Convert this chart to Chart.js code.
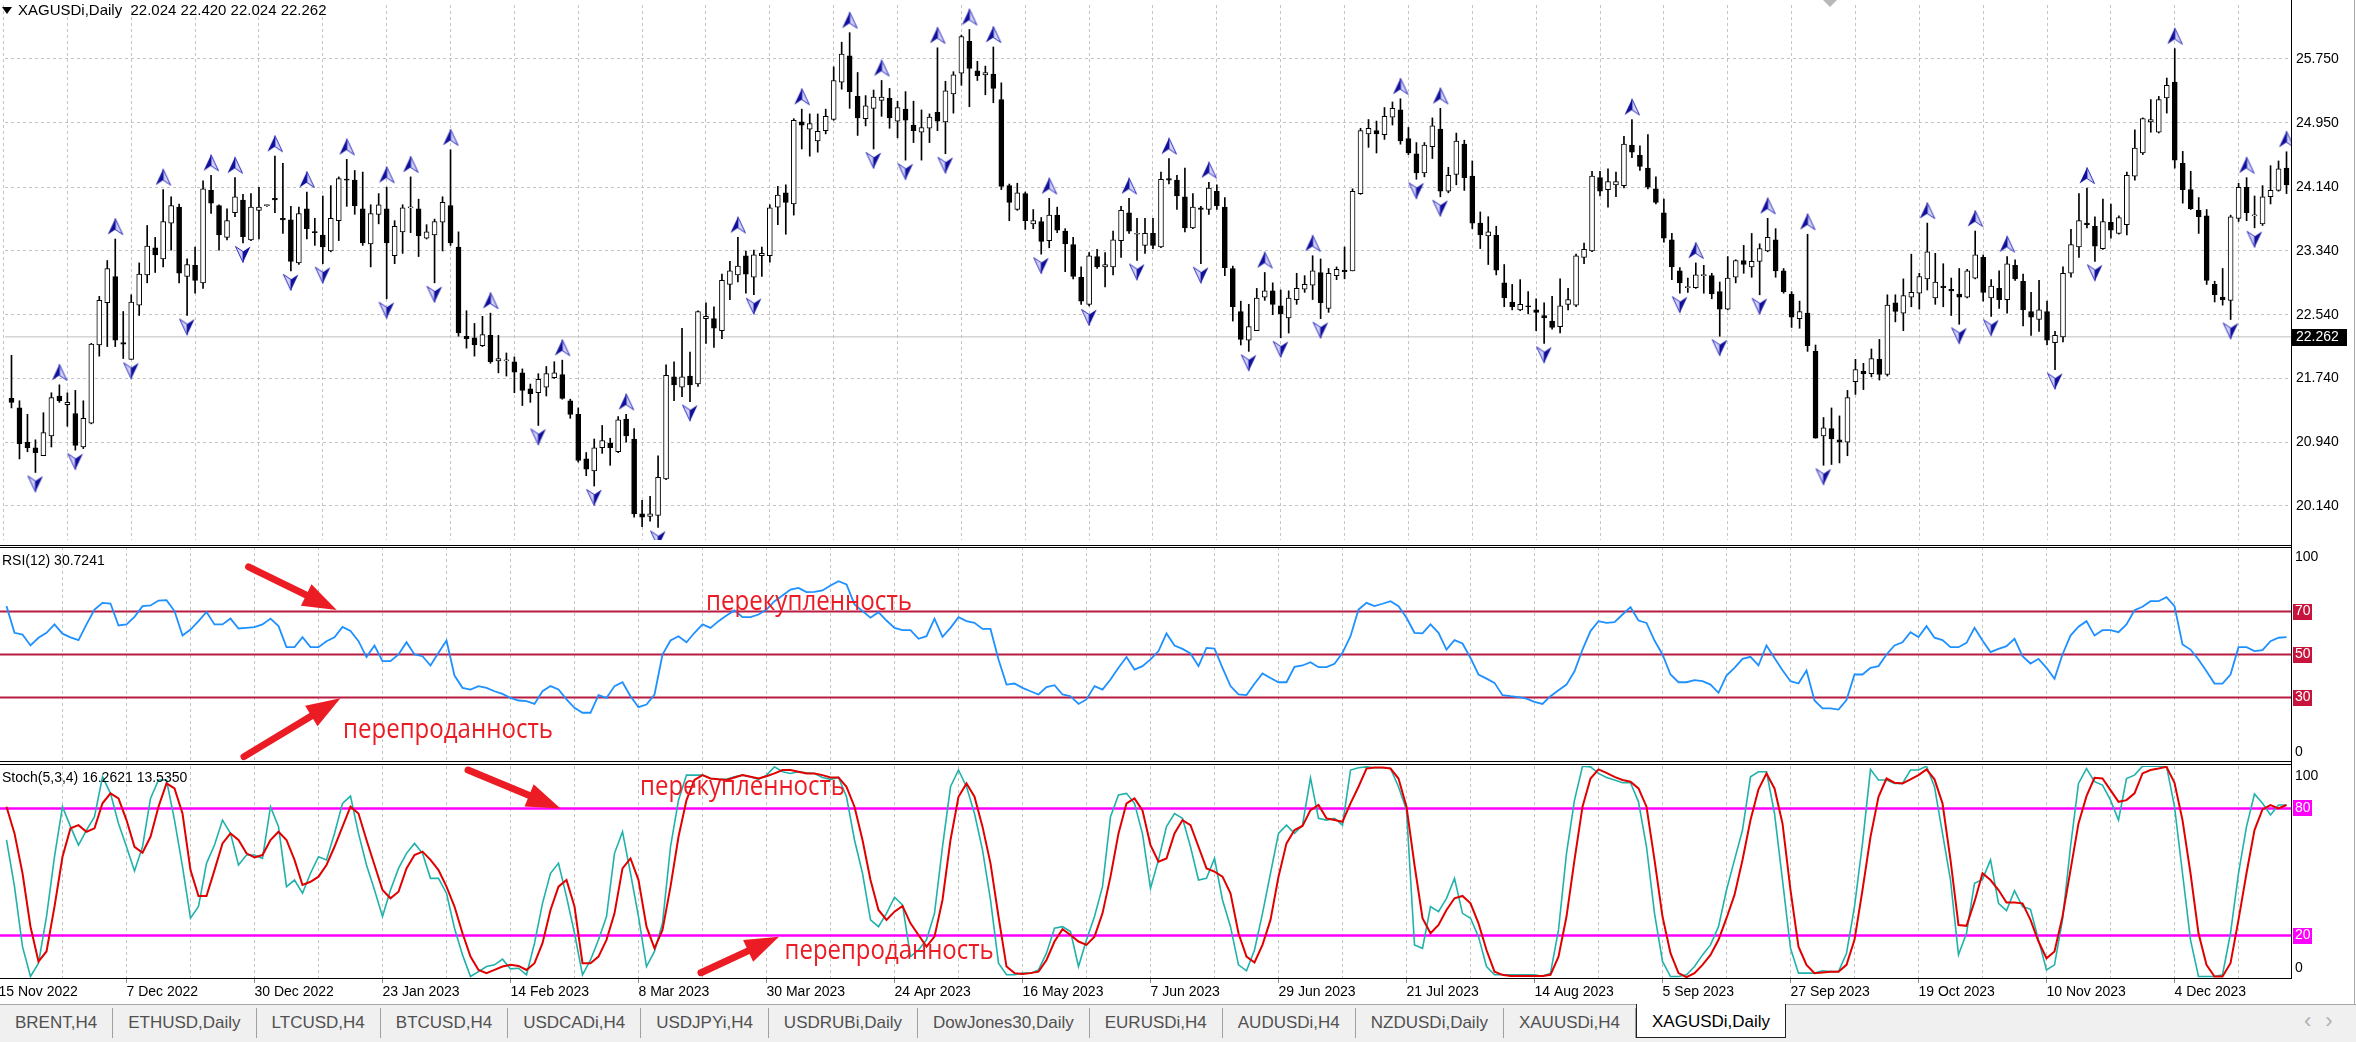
<!DOCTYPE html>
<html>
<head>
<meta charset="utf-8">
<title>XAGUSDi,Daily</title>
<script src="https://cdn.jsdelivr.net/npm/chart.js@4.4.1/dist/chart.umd.min.js"></script>
<style>
  html, body { margin: 0; padding: 0; background: #fff; }
  body { position: relative; width: 2356px; height: 1042px; overflow: hidden;
         font-family: "Liberation Sans", Arial, sans-serif; font-size: 14px; color: #000; }
  canvas { position: absolute; left: 0; }
  #mainChart { top: 0; }
  #rsiChart { top: 547px; }
  #stochChart { top: 766px; }
  .rule { position: absolute; left: 0; width: 2292px; height: 1px; background: #000; }
  .axisLine { position: absolute; left: 2291px; top: 0; width: 1px; height: 979px; background: #000; }
  .winEdge { position: absolute; left: 2354px; top: 0; width: 1px; height: 1004px; background: #a8a8a8; }
  .caption { position: absolute; left: 2px; white-space: pre; line-height: 16px; font-size: 14px; }
  #header { font-size: 15px; line-height: 18px; }
  .triDown { position: absolute; width: 0; height: 0; border-left: 5px solid transparent;
             border-right: 5px solid transparent; border-top: 7px solid #000; }
  #shiftMark { left: 1823px; top: 0; border-left-width: 7px; border-right-width: 7px; border-top: 7px solid #b8b8b8; }
  #tabs { position: absolute; left: 0; top: 1004px; width: 2356px; height: 38px; background: #f0f0f0;
          border-top: 1px solid #a8a8a8; display: flex; align-items: flex-start; }
  .tab { margin-top: 3px; height: 30px; line-height: 30px; padding: 0 15px; font-size: 17px; color: #505050;
         box-sizing: border-box; border-right: 1px solid #a0a0a0; white-space: nowrap; }
  .tab.active { margin-top: -1px; height: 34px; line-height: 36px; background: #fff; color: #000;
                border: 1px solid #222; border-top: none; }
  #tabArrows { position: absolute; left: 2304px; top: 1008px; font-size: 22px; color: #b0b0b0; letter-spacing: 14px; }
</style>
</head>
<body>
<canvas id="mainChart" width="2356" height="545"></canvas>
<canvas id="rsiChart" width="2356" height="215"></canvas>
<canvas id="stochChart" width="2356" height="238"></canvas>

<div class="rule" style="top:545px"></div>
<div class="rule" style="top:547px"></div>
<div class="rule" style="top:761px"></div>
<div class="rule" style="top:764px"></div>
<div class="rule" style="top:978px"></div>
<div class="axisLine"></div>
<div class="winEdge"></div>

<div class="triDown" style="left:2px;top:7px"></div>
<div id="header" class="caption" style="left:18px;top:1px"></div>
<div id="rsiCaption" class="caption" style="top:552px"></div>
<div id="stochCaption" class="caption" style="top:769px"></div>
<div id="shiftMark" class="triDown"></div>

<div id="tabs"></div>
<div id="tabArrows">‹›</div>

<script>
// ---- data (daily bars, oldest first) ----
const symbolName = 'XAGUSDi';
const periodName = 'Daily';
const headerOHLC = [22.024, 22.420, 22.024, 22.262];
const lastPrice = 22.262;

const opens = [
  21.49,21.37,20.94,20.87,20.77,21.02,21.52,21.41,21.30,20.88,
  21.18,22.16,22.69,23.02,22.19,21.98,22.66,23.04,23.38,23.24,
  23.69,23.89,23.02,23.16,22.94,24.10,23.91,23.51,23.82,23.98,
  23.48,23.85,23.91,24.00,23.75,23.73,23.19,23.87,23.58,23.54,
  23.34,23.72,24.24,24.23,23.87,23.43,23.80,23.87,23.28,23.58,
  23.88,23.87,23.50,23.54,23.70,23.91,23.39,22.27,22.25,22.15,
  22.28,21.96,21.96,21.95,21.81,21.61,21.56,21.63,21.75,21.79,
  21.46,21.29,20.73,20.58,20.87,20.93,20.82,21.23,20.98,20.04,
  20.01,20.02,20.48,21.76,21.63,21.77,21.67,22.49,22.49,22.34,
  22.92,23.04,23.28,23.01,23.28,23.28,23.89,24.07,23.93,24.96,
  24.87,24.72,24.85,24.99,25.46,25.79,25.28,25.00,25.13,25.23,
  25.26,24.97,25.12,24.92,24.83,24.88,25.08,24.96,25.31,25.57,
  25.97,25.60,25.55,25.56,25.24,24.16,23.86,24.06,23.68,23.71,
  23.47,23.79,23.59,23.42,23.01,22.67,23.27,23.14,23.14,23.47,
  23.82,23.55,23.41,23.56,23.39,24.25,24.23,24.02,23.63,23.88,
  23.86,24.09,23.89,23.12,22.58,22.22,22.34,22.76,22.84,22.65,
  22.50,22.73,22.86,22.91,23.07,22.62,23.03,23.10,23.09,24.06,
  24.81,24.85,24.80,25.02,25.11,24.75,24.56,24.32,24.65,24.87,
  24.09,24.30,24.68,24.28,23.69,23.53,23.54,22.94,22.70,22.60,
  22.65,22.60,22.53,22.46,22.39,22.67,22.66,23.26,23.34,24.26,
  24.11,24.17,24.16,24.67,24.54,24.38,24.12,23.82,23.48,23.09,
  22.88,22.88,23.03,23.03,22.83,22.61,23.01,23.22,23.14,23.21,
  23.34,23.48,23.09,22.80,22.49,22.56,22.08,21.02,21.11,20.97,
  20.94,21.70,21.83,21.80,21.98,21.79,22.69,22.56,22.76,22.81,
  22.99,22.75,22.90,22.86,22.80,22.76,23.00,23.26,22.75,22.87,
  22.73,23.16,22.96,22.58,22.48,22.58,22.19,22.26,23.06,23.39,
  23.69,23.65,23.37,23.70,23.56,23.67,24.28,24.57,24.96,24.83,
  25.26,25.46,24.44,24.11,23.85,23.78,22.92,22.76,22.72,23.75,
  24.14,23.78,23.68,24.02,24.10,24.38
];
const highs = [
  22.03,21.46,21.29,20.97,21.31,21.56,21.66,21.56,21.59,21.46,
  22.18,22.77,23.22,23.49,22.58,22.79,23.19,23.66,23.51,24.11,
  24.02,23.93,23.24,23.39,24.22,24.29,23.92,23.87,24.26,24.05,
  24.06,24.14,23.92,24.53,24.44,23.90,23.89,24.08,23.75,24.03,
  24.16,24.27,24.49,24.35,24.33,23.92,24.06,24.14,23.72,23.92,
  24.27,23.99,23.67,23.74,24.02,24.61,23.58,22.59,22.43,22.52,
  22.56,22.28,22.06,22.01,21.86,21.67,21.80,21.89,21.95,21.97,
  21.48,21.37,20.81,20.98,21.15,20.99,21.26,21.29,21.11,20.21,
  20.26,20.77,21.91,21.95,22.37,22.07,22.59,22.69,22.64,23.05,
  23.21,23.51,23.34,23.35,23.39,23.92,24.15,24.17,25.00,25.12,
  25.06,25.06,25.12,25.65,25.96,26.08,25.58,25.29,25.36,25.48,
  25.38,25.22,25.34,25.22,25.11,25.06,25.89,25.47,25.59,26.05,
  26.12,25.72,25.66,25.90,25.45,24.18,24.19,24.08,23.86,23.76,
  24.00,23.89,23.62,23.51,23.14,23.32,23.36,23.32,23.59,23.90,
  24.00,23.75,23.75,23.75,24.33,24.50,24.29,24.38,24.06,23.90,
  24.20,24.17,24.01,23.15,22.71,22.67,22.87,23.07,22.94,22.85,
  22.84,23.06,23.03,23.28,23.24,23.12,23.14,23.39,24.12,24.88,
  24.99,24.97,25.14,25.21,25.25,24.89,24.70,24.70,25.01,25.13,
  24.39,24.82,24.73,24.47,23.83,23.77,23.65,23.17,22.92,22.98,
  22.83,22.74,22.69,22.77,22.99,22.87,23.30,23.44,24.34,24.34,
  24.37,24.33,24.78,24.99,24.66,24.80,24.27,23.99,23.56,23.13,
  23.00,23.19,23.16,23.06,22.95,23.27,23.23,23.41,23.56,23.43,
  23.75,23.62,23.12,22.83,22.71,23.55,22.16,21.25,21.37,21.27,
  21.59,21.98,21.93,22.11,22.23,22.79,22.79,22.99,23.30,23.06,
  23.69,23.31,23.18,23.00,23.12,23.11,23.59,23.29,22.98,23.09,
  23.27,23.23,23.05,22.82,22.97,22.71,22.33,23.14,23.61,24.06,
  24.13,23.77,23.99,23.93,23.78,24.33,24.86,25.01,25.24,25.28,
  25.51,25.88,24.59,24.34,24.01,23.86,22.96,23.12,23.79,24.19,
  24.26,24.03,24.16,24.41,24.47,24.585
];
const lows = [
  21.37,20.73,20.82,20.56,20.77,20.88,21.44,21.14,20.84,20.86,
  21.17,22.02,22.14,22.14,21.99,21.98,22.53,22.94,23.07,23.14,
  23.35,22.94,22.53,22.81,22.87,23.81,23.35,23.48,23.77,23.44,
  23.47,23.49,23.90,23.82,23.56,23.09,23.17,23.49,23.41,23.18,
  23.33,23.47,23.90,23.80,23.41,23.14,23.68,22.74,23.18,23.31,
  23.57,23.27,23.49,22.94,23.34,23.41,22.27,22.12,22.02,22.14,
  21.93,21.81,21.77,21.56,21.40,21.44,21.15,21.52,21.74,21.48,
  21.24,20.69,20.52,20.39,20.80,20.65,20.81,20.94,20.00,19.88,
  19.95,19.87,20.47,21.46,21.51,21.45,21.64,22.18,22.13,22.24,
  22.73,22.95,22.81,22.79,23.02,23.20,23.67,23.55,23.79,24.62,
  24.53,24.58,24.81,24.98,25.37,25.13,24.79,24.91,24.62,25.03,
  24.88,24.76,24.48,24.70,24.48,24.70,24.85,24.56,25.07,25.42,
  25.15,25.48,25.30,25.20,24.11,23.72,23.85,23.61,23.62,23.30,
  23.38,23.57,23.08,22.99,22.67,22.65,23.12,22.89,23.04,23.26,
  23.56,23.22,23.31,23.37,23.38,24.18,23.86,23.58,23.62,23.18,
  23.80,23.86,23.03,22.46,22.16,22.08,22.34,22.72,22.54,22.25,
  22.31,22.67,22.82,22.73,22.49,22.57,22.98,22.99,23.09,24.05,
  24.64,24.57,24.74,24.92,24.68,24.55,24.24,24.27,24.50,24.02,
  24.07,24.17,24.10,23.62,23.37,23.17,23.04,22.64,22.60,22.59,
  22.55,22.34,22.18,22.36,22.31,22.60,22.64,23.18,23.33,24.03,
  23.89,24.02,24.13,24.51,24.35,24.12,23.93,23.45,22.98,22.81,
  22.82,22.87,22.81,22.74,22.27,22.60,22.94,23.06,23.01,22.79,
  23.33,23.01,22.81,22.38,22.37,22.08,20.99,20.65,20.66,20.68,
  20.77,21.54,21.60,21.76,21.72,21.77,22.45,22.34,22.64,22.61,
  22.85,22.67,22.64,22.53,22.42,22.75,22.99,22.71,22.52,22.62,
  22.56,22.97,22.40,22.28,22.33,22.16,21.85,22.20,23.01,23.26,
  23.63,23.21,23.36,23.50,23.55,23.54,24.23,24.55,24.83,24.82,
  25.07,24.38,23.94,23.86,23.56,22.92,22.70,22.66,22.48,23.71,
  23.72,23.63,23.66,23.93,24.09,24.06
];
const closes = [
  21.44,20.92,20.87,20.81,21.06,21.50,21.46,21.44,20.90,21.24,
  22.17,22.72,23.12,22.22,22.17,22.70,23.05,23.40,23.29,23.71,
  23.91,23.06,23.17,22.97,24.12,23.94,23.54,23.72,24.02,23.52,
  23.89,23.89,23.91,23.98,23.73,23.21,23.81,23.62,23.57,23.39,
  23.75,24.25,24.23,23.91,23.44,23.81,23.92,23.44,23.65,23.88,
  23.88,23.53,23.58,23.71,23.95,23.44,22.31,22.24,22.16,22.29,
  21.95,21.99,21.96,21.82,21.59,21.55,21.73,21.80,21.81,21.49,
  21.29,20.71,20.60,20.87,20.96,20.87,21.22,21.02,20.04,20.00,
  20.04,20.50,21.78,21.66,21.76,21.66,22.58,22.52,22.37,22.97,
  23.09,23.15,23.05,23.29,23.31,23.88,24.04,23.95,24.98,24.92,
  24.94,24.84,25.03,25.48,25.81,25.34,25.01,25.16,25.27,25.27,
  25.01,25.14,24.98,24.85,24.89,25.02,24.97,25.35,25.55,26.03,
  25.63,25.54,25.58,25.38,24.15,23.95,24.07,23.72,23.72,23.46,
  23.79,23.60,23.43,23.02,22.71,23.28,23.14,23.17,23.48,23.85,
  23.59,23.55,23.56,23.41,24.24,24.23,24.03,23.63,23.89,23.86,
  24.13,23.91,23.13,22.64,22.23,22.39,22.75,22.84,22.67,22.55,
  22.75,22.87,22.92,23.09,22.69,23.06,23.11,23.08,24.09,24.85,
  24.88,24.81,25.03,25.13,24.72,24.57,24.32,24.67,24.91,24.09,
  24.29,24.72,24.26,23.69,23.54,23.58,23.10,22.75,22.64,22.67,
  22.64,22.57,22.50,22.38,22.65,22.73,23.28,23.36,24.28,24.09,
  24.21,24.21,24.68,24.58,24.40,24.14,23.95,23.50,23.14,22.94,
  22.88,23.04,23.03,22.80,22.61,23.00,23.22,23.17,23.21,23.37,
  23.51,23.09,22.83,22.51,22.58,22.15,20.99,21.12,20.98,20.94,
  21.50,21.85,21.80,21.99,21.79,22.66,22.58,22.78,22.82,23.02,
  23.33,22.95,22.88,22.84,22.76,23.09,23.29,22.82,22.90,22.73,
  23.18,22.99,22.60,22.51,22.60,22.22,22.28,23.06,23.42,23.72,
  23.67,23.40,23.71,23.60,23.76,24.29,24.63,25.00,24.99,25.24,
  25.42,24.48,24.11,23.87,23.77,22.97,22.79,22.73,23.77,24.14,
  23.82,23.78,24.02,24.10,24.37,24.17
];

// Bill Williams fractals: bar numbers that carry an arrow
const fractalUpBars = [6,13,19,25,28,33,37,42,47,50,55,60,69,77,91,99,105,109,116,120,123,130,140,
  145,150,157,163,174,179,203,211,220,225,240,246,250,260,271,280,285];
const fractalDownBars = [3,8,15,22,29,35,39,47,53,66,73,81,85,93,108,112,117,129,135,141,149,155,159,
  164,176,179,192,209,214,219,227,244,248,256,261,278,281];

const rsiValues = [
  72.5,60.1,59.3,54.2,57.8,60.1,64,59.7,58,56.7,
  64,70.9,74,73.7,63.5,64,67.5,72.5,72.8,75.1,
  75.3,70.2,58.8,61.6,65.5,69.8,64,64,66.7,62.1,
  62.4,62.7,64,66.7,63.2,53.4,53.4,58,53.4,53.4,
  56.2,58,62.8,60.9,56.2,48.8,54.2,46.9,46.9,50,
  55.7,50,49.2,44.9,50.8,56.5,40.2,34.5,33.7,35.3,
  34.5,32.9,31.7,29.8,28.6,28.3,27,32.9,35.3,33.7,
  29.1,25.2,22.9,22.9,31.1,29.8,35.3,37.1,30.6,25.5,
  26.7,31.4,50,56.5,58.5,55.7,60.1,64,62.4,65.5,
  68.1,70.5,67.4,67.4,68.6,70.9,74.8,77.4,80.2,81,
  79,79.1,79.8,82.1,84.1,82.6,73.3,70.2,67.1,69.7,
  65.8,62.4,61.3,61.3,57.3,58.5,66.7,58.2,62.4,67.4,
  65.5,64.7,61.9,61.9,47.7,36,36.5,34.5,32.9,31.4,
  34.8,35.7,31.4,30.6,27,29.1,35.3,33.7,38.4,43.8,
  48.8,43,44.6,47.7,51.6,59.8,54.2,52.6,50.5,44.6,
  53.1,52.8,43.8,35.3,31.4,31.1,36.4,41.2,39.1,37.1,
  37.1,44.3,44.9,46.4,44.1,44.1,45.7,50.8,58.5,70.9,
  74,72.5,73.6,74.8,72.5,67.1,60.1,59.8,64,60.1,
  52.3,56.7,55.1,48.4,40.7,38.8,36.8,31.1,30.6,30.2,
  29.5,28,27,30.6,33.4,36,42.2,52.3,60.9,65.5,
  64.7,65,68.6,72,65.8,64.7,56.5,50,40.7,37.1,
  37.1,38.1,37.6,36,32.2,40.2,43.8,48,48.9,44.9,
  54.2,48.4,42.7,37.6,36.5,42.6,28.6,24.9,24.9,24.4,
  28.8,40.7,40.7,43.8,44.6,50,54.2,55.7,60.4,58.1,
  63.2,57.8,56.7,53.4,53.4,55.4,62.4,56.5,51.1,52.6,
  53.9,57.3,49.2,45.8,48,43.8,38.7,50,58.8,62.9,
  65.5,58.8,61.3,61.3,60.4,64,70.6,72.2,74.8,74.8,
  76.7,72.5,54.7,52.3,47.7,42.2,36.5,36.5,40.7,53.4,
  53.4,51.6,52,56.2,57.8,58.1
];
const stochMain = [
  65.1,43.1,14.8,0.7,7,29,57.2,80.8,71.4,62.7,
  69.8,76.1,94.9,87.1,72.9,61.9,50.5,61.9,84.7,93.4,
  93.4,74.5,52.5,28.2,33.7,54.1,62.7,74.5,68.2,53.3,
  58,58,56.4,80.8,71.4,43.1,46.2,40,49.4,57.2,
  55.7,68.2,82.4,85.8,68.2,53.3,41.5,29,41.5,51.7,
  58.8,63.5,58.8,47,47,40,23.5,10.9,0.7,3,
  5.4,6.2,8.9,4.3,4.6,1.5,16.4,35.2,49.4,54.1,
  38.4,21.1,1.5,8.5,18,29,58.8,69,49.4,29,
  5.4,12.5,25.8,61.9,83.9,95.7,95.7,95.7,94.1,93.7,
  93.7,94.9,95.7,94.9,93.7,95.7,99.6,97.3,96.5,97.3,
  96.8,96.5,94.6,93.7,94.6,85.5,65.1,49.4,27.4,24.2,
  30.5,38.1,34.5,10.1,13.2,18,30.5,61.9,90.2,98.1,
  90.2,77.6,60.4,36.8,7,1.5,1.5,2.3,2.3,3.8,
  11.7,23.5,24.2,21.9,5.4,18,29,43.1,76.1,86.3,
  87.1,82.4,68,42.3,55.7,71.4,77.6,75.3,61.9,46.2,
  47,56.4,36.8,24.2,6.2,3.4,13.2,30.5,49.4,68.2,
  72.1,68.2,72.1,94.4,75.3,74.5,75.3,72.1,98.1,99.2,
  99.6,99.2,99.2,98.8,90.2,79.2,15.6,14,33.7,31.3,
  37.6,47,30.5,28.2,19.5,5.4,1.5,1.5,1.5,1.5,
  1.5,1.5,0.8,2.3,22.7,58.8,83.9,99.9,99.6,96.5,
  94.6,93.4,92.1,92.1,83.1,61.9,30.5,7.8,0.7,0.7,
  1.5,5.4,10.9,15.6,24.2,41.5,55.7,69.8,94.9,97.3,
  97.3,77.6,46.2,14,2.3,2.3,2.3,3.4,3,3,
  11.7,33.7,63.5,98.4,93.4,93.4,91.8,91.8,98.1,98.1,
  99.9,90.2,68.2,46.2,10.9,21.1,44.7,46.5,55.7,35.2,
  31.8,41.2,33.7,32.4,18,3.8,6.2,27.4,61.9,91.8,
  98.8,92.6,91,83.9,74.5,94.1,95.7,99.9,99.9,99.9,
  99.9,80.8,49.4,18,0.7,0.7,0.7,1.5,21.1,49.4,
  71.4,86.8,82.4,76.9,81.6,81.6
];
const stochSignal = [
  80.8,68.2,49.4,24.2,7.8,12.5,33.7,57.2,70.6,72.1,
  69,70.6,82.4,87.1,84.7,74.5,61.9,59.1,66.6,80.8,
  91.8,89.4,77.6,50.9,38.7,38.7,50.9,63.5,68.2,65.1,
  58.8,56.9,58,65.1,69,65.1,55.7,43.9,45.4,47.8,
  53.3,61.9,71.4,80.8,77.6,65.1,53.3,41.5,37.6,40.7,
  51.7,58,59.6,55.7,50.9,43.1,33.7,21.1,10.1,3.8,
  2.3,3.8,5.4,6.2,5.7,3.8,7,16.4,32.1,43.1,
  46.2,33.7,7,7,10.1,18,30.5,51.7,56.4,46.2,
  24.2,14,22.7,43.1,66.6,83.9,93.4,95.7,94.1,93.7,
  93.4,94.6,95.7,94.9,94.1,95.2,96.5,98.1,98.1,97.3,
  96.5,96.5,95.7,94.6,94.6,90.2,80.8,65.1,46.2,32.1,
  27.4,31.3,34,25.8,20.3,14.8,19.5,36.8,65.1,85.5,
  91.8,85.5,71.4,54.1,29,5.4,2.3,1.9,2.3,3,
  8.5,17.2,23,20.3,17.2,15.6,19.5,30.5,47.8,68.2,
  82.4,84.7,79,62.7,54.9,56.4,68.2,74.5,72.1,61.9,
  51.7,50.2,47.8,40,21.1,10.1,7.3,15.6,27.4,47.8,
  63.5,69.8,71.7,79.2,81.6,75.3,74.5,73.7,82.4,90.2,
  98.8,99.3,99.3,98.8,94.1,80.8,53.3,28.2,21.1,25,
  32.1,37.6,38.7,35.2,25.8,13.2,3,1.5,1,1,
  1,1,1,1.5,10.1,29,55.7,80.8,94.1,98.4,
  96.8,94.9,93.4,92.6,89.4,80.8,55.7,29,11.7,2.3,
  0.4,2.3,6.2,10.9,18,28.2,39.2,55.7,74.5,89,
  96.5,89.4,72.9,41.5,14.8,6.2,2.3,2.6,2.9,2.9,
  6.2,18,41.5,66.6,85.5,94.1,92.1,91.8,93.7,95.7,
  98.4,93.7,82.4,55.7,25,24.6,36,49.4,46.2,41.5,
  35.6,35.6,35.2,27.4,17.2,9.3,12.5,29,50.9,72.9,
  85.8,94.4,94.1,88.6,83.1,83.9,87.1,96.5,98.1,98.8,
  99.6,92.1,74.5,49.4,21.1,6.2,0.7,0.7,7,27.4,
  49.4,69.8,79.5,81.6,80,81.6
];

// time axis: a label every 16 bars, first one on the bar just left of the window
const dateLabels = ['15 Nov 2022','7 Dec 2022','30 Dec 2022','23 Jan 2023','14 Feb 2023','8 Mar 2023',
  '30 Mar 2023','24 Apr 2023','16 May 2023','7 Jun 2023','29 Jun 2023','21 Jul 2023','14 Aug 2023',
  '5 Sep 2023','27 Sep 2023','19 Oct 2023','10 Nov 2023','4 Dec 2023'];
const priceTicks = [25.750, 24.950, 24.140, 23.340, 22.540, 21.740, 20.940, 20.140];
const rsiScaleLabels = [100, 70, 50, 30, 0];
const rsiLevels = [70, 50, 30];
const stochScaleLabels = [100, 80, 20, 0];
const stochLevels = [80, 20];
const tabNames = ['BRENT,H4','ETHUSD,Daily','LTCUSD,H4','BTCUSD,H4','USDCADi,H4','USDJPYi,H4','USDRUBi,Daily',
  'DowJones30,Daily','EURUSDi,H4','AUDUSDi,H4','NZDUSDi,Daily','XAUUSDi,H4','XAGUSDi,Daily'];
const activeTab = 12;

// ---- view settings ----
const X_MIN = -0.8125, X_MAX = 285.5625;   // visible bar window
const PRICE_MIN = 19.7125, PRICE_MAX = 26.427;
const FIRST_LABEL_BAR = -1, LABEL_STEP = 16, GRID_STEP = 8;
const GRID_COLOR = '#c4c4c4';
const NOTE_RED = '#ec1c24';

Chart.defaults.font.family = '"Liberation Sans", Arial, sans-serif';
Chart.defaults.font.size = 14;
Chart.defaults.color = '#000';
Chart.defaults.animation = false;

const bars = opens.map((_, i) => i);
const gridBars = [];
for (let b = FIRST_LABEL_BAR; b <= X_MAX; b += GRID_STEP) gridBars.push(b);

function dateLabelAt(v) {
  const k = (v - FIRST_LABEL_BAR) / LABEL_STEP;
  return Number.isInteger(k) && dateLabels[k] ? dateLabels[k] : '';
}
function noPadding(s) { s.paddingLeft = s.paddingRight = s.paddingTop = s.paddingBottom = 0; }

function timeScale(withLabels) {
  return {
    type: 'linear', min: X_MIN, max: X_MAX, offset: false,
    afterBuildTicks: s => { s.ticks = gridBars.map(v => ({ value: v })); },
    grid: { color: GRID_COLOR, offset: false, drawTicks: withLabels, tickLength: 5,
            tickColor: c => (c.tick && dateLabelAt(c.tick.value)) ? '#8c8c8c' : 'rgba(0,0,0,0)' },
    border: { display: false, dash: [3, 3] },
    ticks: { display: withLabels, autoSkip: false, maxRotation: 0, minRotation: 0, align: 'start',
             padding: 1, callback: v => dateLabelAt(v) },
    afterFit: s => { s.height = withLabels ? 26 : 0; noPadding(s); }
  };
}
function flatScale(min, max) {
  return {
    position: 'right', min, max,
    ticks: { display: false }, grid: { display: false }, border: { display: false },
    afterFit: s => { s.width = 65; noPadding(s); }
  };
}

// fractal arrow icons (the image is centred on the bar's high/low, the arrow sits off it)
function fractalIcon(up) {
  const c = document.createElement('canvas');
  c.width = 18; c.height = 50;
  const g = c.getContext('2d');
  const cy = up ? 12.5 : 36.5, d = up ? 1 : -1;
  const tip = [9, cy - 8 * d], notch = [9, cy + 3 * d], left = [1.5, cy + 8 * d], right = [16.5, cy + 8 * d];
  const dark = up ? left : right, light = up ? right : left;
  g.beginPath(); g.moveTo(...tip); g.lineTo(...light); g.lineTo(...notch); g.closePath();
  g.fillStyle = '#d2d2f4'; g.fill(); g.strokeStyle = '#3030c0'; g.lineWidth = 1; g.stroke();
  g.beginPath(); g.moveTo(...tip); g.lineTo(...dark); g.lineTo(...notch); g.closePath();
  g.fillStyle = '#10109a'; g.fill();
  return c;
}

function drawArrow(ctx, x1, y1, x2, y2) {
  const a = Math.atan2(y2 - y1, x2 - x1), head = 34, half = 12;
  const bx = x2 - head * Math.cos(a), by = y2 - head * Math.sin(a);
  ctx.strokeStyle = ctx.fillStyle = NOTE_RED;
  ctx.lineWidth = 7; ctx.lineCap = 'round';
  ctx.beginPath(); ctx.moveTo(x1, y1); ctx.lineTo(bx + 3 * Math.cos(a), by + 3 * Math.sin(a)); ctx.stroke();
  ctx.beginPath(); ctx.moveTo(x2, y2);
  ctx.lineTo(bx - half * Math.sin(a), by + half * Math.cos(a));
  ctx.lineTo(bx + half * Math.sin(a), by - half * Math.cos(a));
  ctx.closePath(); ctx.fill();
}

// right-hand scale labels of the oscillator windows, level values boxed
function scaleLabels(values, levels, boxColor) {
  return {
    id: 'scaleLabels',
    afterDraw(chart) {
      const { ctx, chartArea: a, scales: { y } } = chart;
      ctx.save();
      ctx.font = '14px "Liberation Sans", Arial, sans-serif';
      ctx.textBaseline = 'middle';
      values.forEach(v => {
        const py = Math.min(Math.max(y.getPixelForValue(v), a.top + 10), a.bottom - 9.5);
        if (levels.includes(v)) {
          ctx.fillStyle = boxColor;
          ctx.fillRect(a.right + 2, Math.round(py) - 8, 19, 16);
          ctx.fillStyle = '#fff';
        } else {
          ctx.fillStyle = '#000';
        }
        ctx.fillText(String(v), a.right + 4, py);
      });
      ctx.restore();
    }
  };
}

// hand-drawn red remarks, anchored in bar / indicator units
function remarks(items) {
  return {
    id: 'remarks',
    afterDraw(chart) {
      const { ctx, scales: { x, y } } = chart;
      ctx.save();
      items.forEach(n => {
        if (n.text) {
          ctx.fillStyle = NOTE_RED;
          ctx.font = '28px "Open Sans", "Noto Sans", sans-serif';
          ctx.textBaseline = 'alphabetic';
          ctx.fillText(n.text, x.getPixelForValue(n.at[0]), y.getPixelForValue(n.at[1]), n.width);
        } else {
          drawArrow(ctx, x.getPixelForValue(n.from[0]), y.getPixelForValue(n.from[1]),
                         x.getPixelForValue(n.to[0]), y.getPixelForValue(n.to[1]));
        }
      });
      ctx.restore();
    }
  };
}

const bidLabel = {
  id: 'bidLabel',
  afterDraw(chart) {
    const { ctx, chartArea: a, scales: { y } } = chart;
    const py = y.getPixelForValue(lastPrice);
    ctx.save();
    ctx.fillStyle = '#000';
    ctx.fillRect(a.right + 1, Math.round(py) - 8, 55, 17);
    ctx.fillStyle = '#fff';
    ctx.font = '14px "Liberation Sans", Arial, sans-serif';
    ctx.textBaseline = 'middle';
    ctx.fillText(lastPrice.toFixed(3), a.right + 5, py + 0.5);
    ctx.restore();
  }
};

// ---- price window ----
new Chart(document.getElementById('mainChart'), {
  type: 'bar',
  data: {
    datasets: [
      { type: 'scatter', order: 0, data: fractalUpBars.map(i => ({ x: i, y: highs[i] })),
        pointStyle: fractalIcon(true), pointRadius: 4 },
      { type: 'scatter', order: 0, data: fractalDownBars.map(i => ({ x: i, y: lows[i] })),
        pointStyle: fractalIcon(false), pointRadius: 4 },
      { order: 1, grouped: false, barThickness: 5, minBarLength: 1,
        data: bars.map(i => ({ x: i, y: [opens[i], closes[i]] })),
        backgroundColor: bars.map(i => closes[i] >= opens[i] ? '#fff' : '#000'),
        borderColor: '#000', borderWidth: 1, borderSkipped: false },
      { order: 2, grouped: false, barThickness: 1,
        data: bars.map(i => ({ x: i, y: [lows[i], highs[i]] })),
        backgroundColor: '#000', borderWidth: 0 },
      { type: 'line', order: 3, data: [{ x: X_MIN, y: lastPrice }, { x: X_MAX, y: lastPrice }],
        borderColor: '#c0c0c0', borderWidth: 1, pointRadius: 0 }
    ]
  },
  options: {
    responsive: false, maintainAspectRatio: false, events: [],
    layout: { padding: 0 },
    plugins: { legend: { display: false }, tooltip: { enabled: false } },
    scales: {
      x: timeScale(false),
      y: {
        position: 'right', min: PRICE_MIN, max: PRICE_MAX, beginAtZero: false,
        afterBuildTicks: s => { s.ticks = priceTicks.map(v => ({ value: v })); },
        ticks: { padding: 5, callback: v => v.toFixed(3) },
        grid: { color: GRID_COLOR, drawTicks: false },
        border: { display: false, dash: [3, 3] },
        afterFit: s => { s.width = 65; noPadding(s); }
      }
    }
  },
  plugins: [bidLabel]
});

// ---- RSI(12) window ----
new Chart(document.getElementById('rsiChart'), {
  type: 'line',
  data: {
    datasets: [
      { order: 0, data: bars.map(i => ({ x: i, y: rsiValues[i] })),
        borderColor: '#1e90ff', borderWidth: 1.8, pointRadius: 0, tension: 0 },
      ...rsiLevels.map(v => ({ order: 1, data: [{ x: X_MIN, y: v }, { x: X_MAX, y: v }],
        borderColor: '#b81c40', borderWidth: 2, pointRadius: 0 }))
    ]
  },
  options: {
    responsive: false, maintainAspectRatio: false, events: [],
    layout: { padding: 0 },
    plugins: { legend: { display: false }, tooltip: { enabled: false } },
    scales: { x: timeScale(false), y: flatScale(0, 100) }
  },
  plugins: [
    scaleLabels(rsiScaleLabels, rsiLevels, '#c8143c'),
    remarks([
      { from: [30.26, 90.8], to: [41.28, 70.7] },
      { from: [29.69, 2.5], to: [41.74, 29.6] },
      { text: 'перекупленность', at: [87.44, 70.7], width: 206 },
      { text: 'перепроданность', at: [42.06, 11.2], width: 210 }
    ])
  ]
});

// ---- Stochastic(5,3,4) window ----
new Chart(document.getElementById('stochChart'), {
  type: 'line',
  data: {
    datasets: [
      { order: 0, data: bars.map(i => ({ x: i, y: stochSignal[i] })),
        borderColor: '#e00000', borderWidth: 2, pointRadius: 0, tension: 0 },
      { order: 1, data: bars.map(i => ({ x: i, y: stochMain[i] })),
        borderColor: '#20b2aa', borderWidth: 1.6, pointRadius: 0, tension: 0 },
      ...stochLevels.map(v => ({ order: 2, data: [{ x: X_MIN, y: v }, { x: X_MAX, y: v }],
        borderColor: '#ff00ff', borderWidth: 2.5, pointRadius: 0 }))
    ]
  },
  options: {
    responsive: false, maintainAspectRatio: false, events: [],
    layout: { padding: 0 },
    plugins: { legend: { display: false }, tooltip: { enabled: false } },
    scales: { x: timeScale(true), y: flatScale(0, 100) }
  },
  plugins: [
    scaleLabels(stochScaleLabels, stochLevels, '#ff00ff'),
    remarks([
      { from: [57.69, 98.1], to: [69.25, 80.0] },
      { from: [86.81, 2.5], to: [96.56, 19.5] },
      { text: 'перекупленность', at: [79.19, 86.3], width: 205 },
      { text: 'перепроданность', at: [97.26, 9.0], width: 209 }
    ])
  ]
});

// ---- captions and tab strip ----
document.getElementById('header').textContent =
  symbolName + ',' + periodName + '  ' + headerOHLC.map(v => v.toFixed(3)).join(' ');
document.getElementById('rsiCaption').textContent = 'RSI(12) 30.7241';
document.getElementById('stochCaption').textContent = 'Stoch(5,3,4) 16.2621 13.5350';

const tabs = document.getElementById('tabs');
tabNames.forEach((name, i) => {
  const t = document.createElement('div');
  t.className = 'tab' + (i === activeTab ? ' active' : '');
  t.textContent = name;
  tabs.appendChild(t);
});
</script>
</body>
</html>
